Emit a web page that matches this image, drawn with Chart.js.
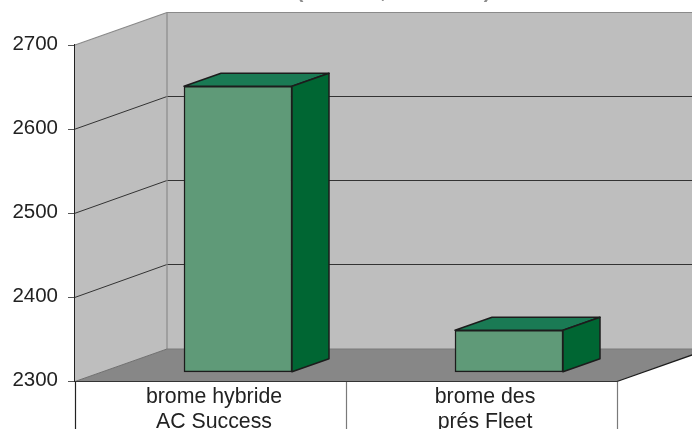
<!DOCTYPE html>
<html>
<head>
<meta charset="utf-8">
<style>html,body{margin:0;padding:0;background:#fff}#w{width:692px;height:429px;position:relative;overflow:hidden}</style>
<script src="https://cdn.jsdelivr.net/npm/chart.js@4"></script>
</head>
<body>
<div id="w"><canvas id="c" width="692" height="429"></canvas></div>
<script>
const categories = [["brome hybride","AC Success"],["brome des","prés Fleet"]];
const seriesValues = [2640, 2350];
const yMin = 2300, yMax = 2700, yStep = 100;
const titleFragments = [["(",300],[",",383],[")",487]];

const WALL = "#bebebe", FLOOR = "#878787", EDGE = "#8a8a8a", GRID = "#333333", INK = "#1c1c1c";
const FRONT = "#5f9a78", TOP = "#1a7a54", SIDE = "#006633";
const wallDx = 92, wallDy = -32.5;
const barPlaneDx = 27.5, barPlaneDy = -9.2;
const barDx = 37, barDy = -13;
const FONT = "'Liberation Sans', Arial, sans-serif";

function poly(ctx, pts, fill, stroke, lw){
  ctx.beginPath();
  pts.forEach((p,i)=> i ? ctx.lineTo(p[0],p[1]) : ctx.moveTo(p[0],p[1]));
  ctx.closePath();
  if(fill){ctx.fillStyle=fill;ctx.fill();}
  if(stroke){ctx.strokeStyle=stroke;ctx.lineWidth=lw||1;ctx.lineJoin="round";ctx.stroke();}
}
function line(ctx,x1,y1,x2,y2,c,lw){
  ctx.beginPath();ctx.moveTo(x1,y1);ctx.lineTo(x2,y2);ctx.strokeStyle=c;ctx.lineWidth=lw||1;ctx.stroke();
}

const room = {
  id:"room",
  beforeDatasetsDraw(chart){
    const ctx=chart.ctx, x=chart.scales.x, y=chart.scales.y;
    const L=x.left, R=x.right, B=y.getPixelForValue(yMin), T=y.getPixelForValue(yMax);
    ctx.save();
    poly(ctx,[[L+wallDx,T+wallDy],[R+wallDx,T+wallDy],[R+wallDx,B+wallDy],[L+wallDx,B+wallDy]],WALL);
    poly(ctx,[[L,T],[L+wallDx,T+wallDy],[L+wallDx,B+wallDy],[L,B]],WALL);
    poly(ctx,[[L,B],[L+wallDx,B+wallDy],[R+wallDx,B+wallDy],[R,B]],FLOOR);
    for(let v=yMin+yStep;v<yMax;v+=yStep){
      const p=y.getPixelForValue(v);
      const q=Math.floor(p+wallDy)+0.5;
      line(ctx,L,p,L+wallDx,q,GRID,1);
      line(ctx,L+wallDx,q,R+wallDx,q,GRID,1);
    }
    line(ctx,L,T,L+wallDx,T+wallDy,EDGE,1.2);
    line(ctx,L+wallDx,T+wallDy,R+wallDx,T+wallDy,EDGE,1.2);
    line(ctx,L+wallDx,T+wallDy,L+wallDx,B+wallDy,EDGE,1.2);
    line(ctx,L+wallDx,B+wallDy,R+wallDx,B+wallDy,"#7a7a7a",1);
    line(ctx,L,B,L+wallDx,B+wallDy,"#6f6f6f",1);
    line(ctx,R,B,R+wallDx,B+wallDy,INK,1.2);
    line(ctx,L,B,R,B,"#333333",1.2);
    ctx.restore();
    ctx.save();
    ctx.translate(barPlaneDx,barPlaneDy);
  },
  afterDatasetsDraw(chart){
    const ctx=chart.ctx, meta=chart.getDatasetMeta(0);
    ctx.restore();
    ctx.save();
    meta.data.forEach(b=>{
      const l=b.x-b.width/2+barPlaneDx, r=b.x+b.width/2+barPlaneDx, t=b.y+barPlaneDy, bt=b.base+barPlaneDy;
      poly(ctx,[[l,t],[l+barDx,t+barDy],[r+barDx,t+barDy],[r,t]],TOP,INK,1.5);
      poly(ctx,[[r,t],[r+barDx,t+barDy],[r+barDx,bt+barDy],[r,bt]],SIDE,INK,1.5);
    });
    ctx.fillStyle="#8c8c8c";ctx.font="bold 20px "+FONT;ctx.textAlign="center";ctx.textBaseline="alphabetic";
    titleFragments.forEach(f=>ctx.fillText(f[0],f[1],-2));
    ctx.restore();
  }
};

new Chart(document.getElementById("c"),{
  type:"bar",
  data:{labels:categories,datasets:[{
    data:seriesValues,backgroundColor:FRONT,borderColor:INK,borderWidth:1.5,borderSkipped:false,
    barThickness:108,clip:false,base:yMin
  }]},
  plugins:[room],
  options:{
    responsive:false,animation:false,
    layout:{padding:{left:0,right:75,top:45,bottom:0}},
    plugins:{legend:{display:false},title:{display:false},tooltip:{enabled:false}},
    scales:{
      x:{
        offset:true,
        afterFit(s){s.height=47.5;},
        grid:{drawOnChartArea:false,drawTicks:true,tickLength:48,tickWidth:1.2,offset:true,
          tickColor:c=>c.index===0?"#222222":"#7a7a7a"},
        border:{display:false},
        ticks:{color:"#222222",font:{family:FONT,size:21.3,lineHeight:1.19},padding:-45,labelOffset:3.5,maxRotation:0,autoSkip:false}
      },
      y:{
        min:yMin,max:yMax,
        afterFit(s){s.width=75;},
        grid:{drawOnChartArea:false,drawTicks:true,tickLength:7,tickColor:"#555555",tickWidth:1},
        border:{display:true,color:"#222222",width:1.2},
        ticks:{stepSize:yStep,color:"#222222",font:{family:FONT,size:20.5},padding:10,labelOffset:-1,
          callback:v=>String(v)}
      }
    }
  }
});
</script>
</body>
</html>
